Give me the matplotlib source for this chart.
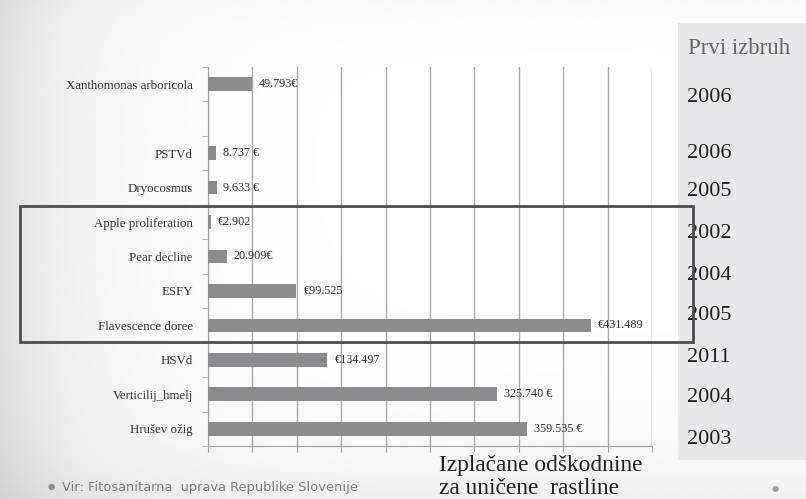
import numpy as np
import matplotlib
matplotlib.use("Agg")
from matplotlib import pyplot as plt
from matplotlib.patches import Rectangle

# data
categories = ["Xanthomonas arboricola", "", "PSTVd", "Dryocosmus",
              "Apple proliferation", "Pear decline", "ESFY",
              "Flavescence doree", "HSVd", "Verticilij_hmelj", "Hrušev ožig"]
values = [49793, np.nan, 8737, 9633, 2902, 20909, 99525, 431489,
          134497, 325740, 359535]
value_labels = ["49.793€", "", "8.737 €", "9.633 €", "€2.902", "20.909€",
                "€99.525", "€431.489", "€134.497", "325.740 €", "359.535 €"]
years = ["2006", "2006", "2005", "2002", "2004", "2005", "2011", "2004", "2003"]

W, H = 806, 499
fig = plt.figure(figsize=(W / 100, H / 100), dpi=100)

def px(x, y):
    # pixel coords (top-left origin) -> figure fraction
    return x / W, 1 - y / H

# slide background with soft grey edges
bg = fig.add_axes([0, 0, 1, 1], zorder=-10)
xx, yy = np.meshgrid(np.linspace(0, W, 400), np.linspace(0, H, 250))
shade = 1 - 0.12 * np.exp(-xx / 90) - 0.06 * np.exp(-(H - yy) / 60) \
    - 0.02 * np.exp(-yy / 30)
bg.imshow(np.clip(shade, 0, 1), cmap="gray", vmin=0, vmax=1,
          extent=[0, W, H, 0], aspect="auto")
bg.add_patch(Rectangle((678, 23), W - 678, 437, facecolor="#e8e8ea",
                       edgecolor="none"))
bg.set_xlim(0, W)
bg.set_ylim(H, 0)
bg.axis("off")

serif = "Liberation Serif"

# bar chart
left, right, top, bottom = 208, 652, 67, 446
ax = fig.add_axes([left / W, 1 - bottom / H, (right - left) / W, (bottom - top) / H])
ax.patch.set_alpha(0)
pos = np.arange(len(categories))
ax.barh(pos, values, height=0.4, color="#8c8c8e", zorder=3)
ax.set_xlim(0, 500000)
ax.set_ylim(len(categories) - 0.5, -0.5)
ax.set_xticks(np.arange(0, 500001, 50000))
ax.set_xticklabels([])
ax.tick_params(axis="x", length=4, color="#a0a0a0")
ax.grid(axis="x", color="#a8a8a8", linewidth=1, zorder=0)
ax.set_yticks(pos)
ax.set_yticklabels(categories, fontfamily=serif, fontsize=9.3, color="#333333")
ax.tick_params(axis="y", which="major", length=0, pad=11)
ax.set_yticks(np.arange(-0.5, len(categories)), minor=True)
ax.tick_params(axis="y", which="minor", length=4, color="#a0a0a0")
for s in ["top", "right"]:
    ax.spines[s].set_visible(False)
for s in ["left", "bottom"]:
    ax.spines[s].set_color("#a0a0a0")

for p, v, lab in zip(pos, values, value_labels):
    if lab:
        ax.annotate(lab, (v, p), xytext=(5, 0), textcoords="offset points",
                    va="center", ha="left", fontfamily=serif, fontsize=8.7,
                    color="#333333", zorder=4)

# highlight box
x0, y0 = px(20, 342)
x1, y1 = px(693, 206)
fig.patches.append(Rectangle((x0, y0), x1 - x0, y1 - y0, transform=fig.transFigure,
                             fill=False, edgecolor="#4d4d4d", linewidth=2, zorder=5))

# right column
fig.text(*px(688, 48), "Prvi izbruh", fontfamily=serif, fontsize=16.5,
         color="#666666", va="center", ha="left")
year_y = [97, 153, 192, 234, 275, 316, 357, 398, 439]
for yr, yy_ in zip(years, year_y):
    fig.text(*px(687, yy_), yr, fontfamily=serif, fontsize=16,
             color="#222222", va="center", ha="left")

# footer
fig.text(*px(48, 487), "●", fontsize=6, color="#909090", va="center")
fig.text(*px(62, 487), "Vir: Fitosanitarna  uprava Republike Slovenije",
         fontfamily="DejaVu Sans", fontsize=9.4, color="#7a7a7a", va="center")
fig.text(*px(439, 466), "Izplačane odškodnine", fontfamily=serif, fontsize=16.8,
         color="#222222", va="center", ha="left")
fig.text(*px(439, 488), "za uničene  rastline", fontfamily=serif, fontsize=16.8,
         color="#222222", va="center", ha="left")
fig.text(*px(775, 488), "●", fontsize=6, color="#a0a0a0", va="center", ha="center")

fig.savefig("out.png", dpi=100)
